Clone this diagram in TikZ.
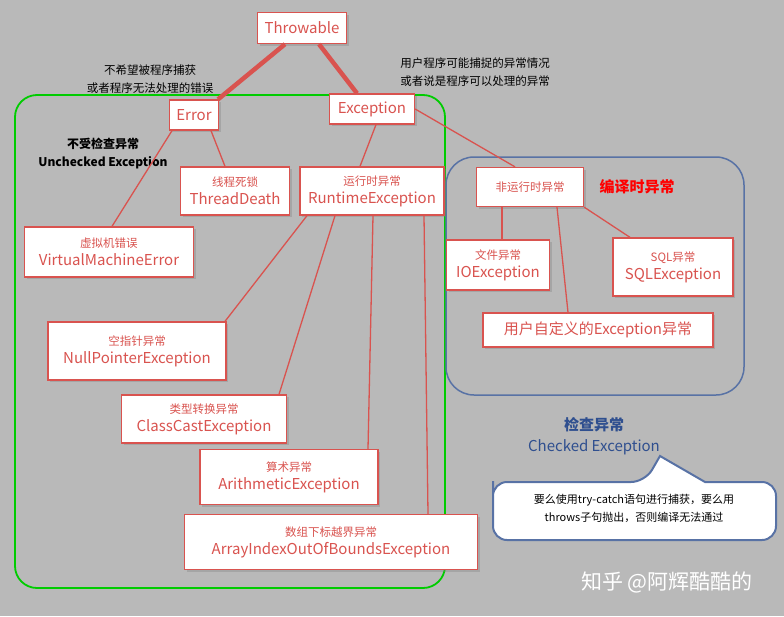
\documentclass[tikz,border=0pt]{standalone}
\usepackage{fontspec}
\setmainfont{Noto Sans CJK SC}
\usetikzlibrary{shadows}
\definecolor{exred}{HTML}{D9534F}
\definecolor{bgray}{HTML}{B9B9B9}
\definecolor{cblue}{HTML}{2F4F8F}
\newcommand{\cn}{\fontsize{11.5}{14}\selectfont}
\begin{document}
\begin{tikzpicture}[x=1pt,y=-1pt,
      exbox/.style={
         rectangle,
         draw=exred,
         line width=1.3pt,
         fill=white,
         drop shadow={opacity=0.35,shadow xshift=2pt,shadow yshift=-2pt},
         text=exred,
         align=center,
         inner sep=3pt,
         font=\fontsize{15}{18}\selectfont},
      note/.style={align=center,font=\fontsize{11.5}{18}\selectfont},
      thin/.style={draw=exred,line width=1.3pt},
      thick/.style={draw=exred,line width=4.5pt}
      ]
      \fill[bgray] (0,0) rectangle (784,616);
      \useasboundingbox (0,0) rectangle (784,616);
      % groups
      \draw[green!80!black,line width=1.8pt,rounded corners=22pt] (15,95) rectangle (445,588);
      \draw[cblue!80!white,line width=1.5pt,rounded corners=28pt] (446,157) rectangle (744,395);
      % nodes
      \node[exbox,minimum width=89pt,minimum height=31pt] (thr) at (302,28) {Throwable};
      \node[exbox,minimum width=49pt,minimum height=30pt] (err) at (194,115) {Error};
      \node[exbox,minimum width=85pt,minimum height=30pt] (exc) at (372,109) {Exception};
      \node[exbox,minimum width=109pt,minimum height=48pt] (td) at (235,191) {{\cn 线程死锁}\\ThreadDeath};
      \node[exbox,minimum width=144pt,minimum height=48pt] (rt) at (372,191) {{\cn 运行时异常}\\RuntimeException};
      \node[exbox,minimum width=169pt,minimum height=50pt] (vme) at (109,252) {{\cn 虚拟机错误}\\VirtualMachineError};
      \node[exbox,minimum width=178pt,minimum height=58pt] (npe) at (137,351) {{\cn 空指针异常}\\NullPointerException};
      \node[exbox,minimum width=165pt,minimum height=48pt] (cce) at (204,419) {{\cn 类型转换异常}\\ClassCastException};
      \node[exbox,minimum width=178pt,minimum height=55pt] (ae) at (289,477) {{\cn 算术异常}\\ArithmeticException};
      \node[exbox,minimum width=293pt,minimum height=55pt] (aie) at (331,542) {{\cn 数组下标越界异常}\\ArrayIndexOutOfBoundsException};
      \node[exbox,minimum width=107pt,minimum height=39pt] (nrt) at (530,187) {\cn 非运行时异常};
      \node[exbox,minimum width=103pt,minimum height=50pt] (ioe) at (498,265) {{\cn 文件异常}\\IOException};
      \node[exbox,minimum width=120pt,minimum height=58pt] (sql) at (673,267) {{\cn SQL异常}\\SQLException};
      \node[exbox,minimum width=230pt,minimum height=34pt] (usr) at (598,330) {用户自定义的Exception异常};
      % texts
      \node[note] (errnote) at (150,79) {不希望被程序捕获\\或者程序无法处理的错误};
      \node[note] (excnote) at (475,72) {用户程序可能捕捉的异常情况\\或者说是程序可以处理的异常};
      \node[align=center,font=\bfseries\fontsize{12}{18}\selectfont] (unchk) at (103,154) {不受检查异常\\Unchecked Exception};
      \node[text=red,font=\bfseries\fontsize{15}{16}\selectfont] (cmp) at (637,187) {编译时异常};
      \node[align=center,text=cblue,font=\fontsize{15}{21}\selectfont] (chk) at (594,436) {{\bfseries 检查异常}\\Checked Exception};
      \node[text=white,font=\fontsize{21}{22}\selectfont] (mark) at (667,582) {知乎 @阿辉酷酷的};
      % callout
      \draw[cblue!80!white,line width=2pt,fill=white,rounded corners=14pt]
        (493,495) -- (493,482) -- (645,482) [sharp corners]-- (660,456) -- (705,482) [rounded corners=14pt]
        -- (776,482) -- (776,540) -- (493,540) -- cycle;
      \node[align=center,font=\fontsize{11}{18}\selectfont] (call) at (634,508) {要么使用try-catch语句进行捕获，要么用\\throws子句抛出，否则编译无法通过};
      % connectors
      \draw[thick] ([xshift=-17pt]thr.south) -- ([xshift=24pt]err.north);
      \draw[thick] ([xshift=17pt]thr.south) -- ([xshift=-15pt]exc.north);
      \draw[thin] ([xshift=-22pt]err.south) -- ([xshift=3pt]vme.north);
      \draw[thin] ([xshift=17pt]err.south) -- ([xshift=-10pt]td.north);
      \draw[thin] ([xshift=4pt]exc.south) -- ([xshift=-12pt]rt.north);
      \draw[thin] (exc.east) -- ([xshift=-15pt]nrt.north);
      \draw[thin] ([xshift=-65pt]rt.south) -- ([xshift=88pt]npe.north);
      \draw[thin] ([xshift=-37pt]rt.south) -- ([xshift=75pt]cce.north);
      \draw[thin] ([xshift=1pt]rt.south) -- ([xshift=79pt]ae.north);
      \draw[thin] ([xshift=52pt]rt.south) -- ([xshift=97pt]aie.north);
      \draw[thin] ([xshift=-28pt]nrt.south) -- ([xshift=4pt]ioe.north);
      \draw[thin] ([xshift=27pt]nrt.south) -- ([xshift=-30pt]usr.north);
      \draw[thin] (nrt.south east) -- ([xshift=-43pt]sql.north);
\end{tikzpicture}
\end{document}
